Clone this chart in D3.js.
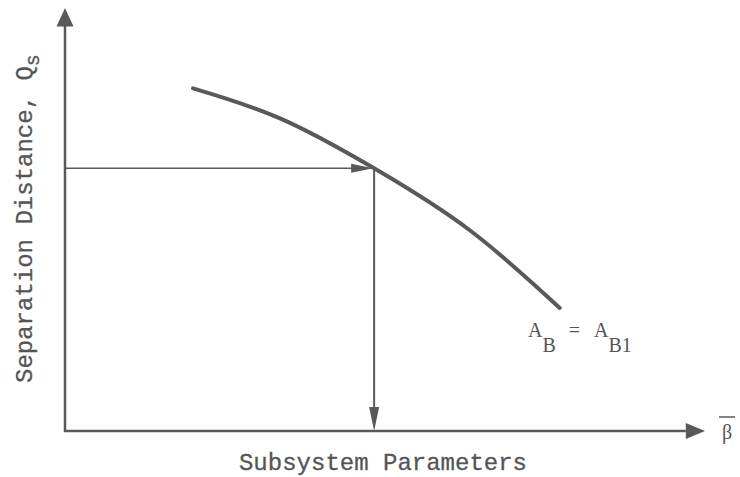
<!DOCTYPE html>
<html>
<head>
<meta charset="utf-8">
<script src="https://cdn.jsdelivr.net/npm/d3@7"></script>
<style>
  body { margin: 0; background: #fff; }
  svg { display: block; }
  .lbl { font-family: "Liberation Mono", "DejaVu Sans Mono", monospace; fill: #555; stroke: #555; stroke-width: 0.3; }
  .serif { font-family: "Liberation Serif", "DejaVu Serif", serif; fill: #555; }
</style>
</head>
<body>
<div id="chart"></div>
<script>
// schematic units, 0..10 on both axes
const curveX = [2.0, 3.36, 4.83, 6.33, 7.73];
const curveY = [8.10, 7.39, 6.21, 4.74, 2.91];
const pickX = 4.83;
const pickY = 6.21;
const xTitle = "Subsystem Parameters";
const yTitle = "Separation Distance, Q";
const yTitleSub = "s";

const width = 740, height = 477;
const ink = "#595959";

const svg = d3.select("#chart").append("svg")
  .attr("width", width)
  .attr("height", height);

const x = d3.scaleLinear().domain([0, 10]).range([65, 705]);
const y = d3.scaleLinear().domain([0, 10]).range([431, 8]);

// axes with arrowheads
svg.append("line")
  .attr("x1", x(0)).attr("y1", y(0) + 1)
  .attr("x2", x(0)).attr("y2", y(9.6))
  .attr("stroke", ink).attr("stroke-width", 2.5);
svg.append("path")
  .attr("d", `M${x(0)},${y(10)} L${x(0) - 8.5},${y(9.56)} L${x(0) + 8.5},${y(9.56)} Z`)
  .attr("fill", ink);

svg.append("line")
  .attr("x1", x(0) - 1).attr("y1", y(0))
  .attr("x2", x(9.7)).attr("y2", y(0))
  .attr("stroke", ink).attr("stroke-width", 2.5);
svg.append("path")
  .attr("d", `M${x(10)},${y(0)} L${x(9.7)},${y(0) - 8} L${x(9.7)},${y(0) + 8} Z`)
  .attr("fill", ink);

// curve
const pts = curveX.map((v, i) => [v, curveY[i]]);
svg.append("path")
  .datum(pts)
  .attr("fill", "none")
  .attr("stroke", ink)
  .attr("stroke-width", 4)
  .attr("stroke-linecap", "round")
  .attr("d", d3.line().x(d => x(d[0])).y(d => y(d[1])).curve(d3.curveNatural));

// horizontal read-off arrow
const px = x(pickX), py = y(pickY);
svg.append("line")
  .attr("x1", x(0)).attr("y1", py)
  .attr("x2", px - 14).attr("y2", py)
  .attr("stroke", ink).attr("stroke-width", 1.6);
svg.append("path")
  .attr("d", `M${px - 1},${py} L${px - 23},${py - 4.5} L${px - 23},${py + 4.5} Z`)
  .attr("fill", ink);

// vertical drop arrow
svg.append("line")
  .attr("x1", px).attr("y1", py)
  .attr("x2", px).attr("y2", y(0) - 18)
  .attr("stroke", ink).attr("stroke-width", 2);
svg.append("path")
  .attr("d", `M${px},${y(0)} L${px - 5},${y(0) - 24} L${px + 5},${y(0) - 24} Z`)
  .attr("fill", ink);

// titles
svg.append("text")
  .attr("class", "lbl")
  .attr("x", 383).attr("y", 470)
  .attr("text-anchor", "middle")
  .attr("font-size", 24)
  .text(xTitle);

const yt = svg.append("text")
  .attr("class", "lbl")
  .attr("transform", "translate(32,383) rotate(-90)")
  .attr("font-size", 24);
yt.append("tspan").text(yTitle);
yt.append("tspan").attr("dy", 7).attr("font-size", 20).text(yTitleSub);

// beta-bar label at the end of the x axis
svg.append("text")
  .attr("class", "serif")
  .attr("x", 727).attr("y", y(0) + 8)
  .attr("text-anchor", "middle")
  .attr("font-family", "DejaVu Sans")
  .attr("font-size", 20)
  .text("\u03B2");
svg.append("line")
  .attr("x1", 719).attr("x2", 735)
  .attr("y1", 417).attr("y2", 417)
  .attr("stroke", ink).attr("stroke-width", 1.5);

// curve label A_B = A_B1
const cl = svg.append("text")
  .attr("class", "serif")
  .attr("x", 528).attr("y", 337)
  .attr("font-size", 20);
cl.append("tspan").text("A");
cl.append("tspan").attr("dy", 15).text("B");
cl.append("tspan").attr("dy", -15).attr("dx", 13).text("=");
cl.append("tspan").attr("dx", 14).text("A");
cl.append("tspan").attr("dy", 15).text("B1");
</script>
</body>
</html>
